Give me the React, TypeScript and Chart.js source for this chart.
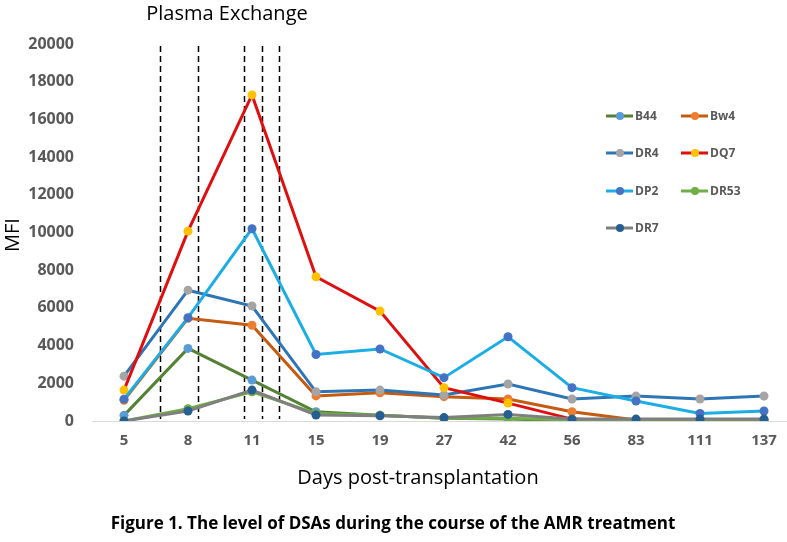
import React, { useEffect, useRef } from "react";
import { Chart, registerables } from "chart.js";

Chart.register(...registerables);

const days = ["5", "8", "11", "15", "19", "27", "42", "56", "83", "111", "137"];
const b44 = [300, 3850, 2170, 490, 300, 150, 100, 30, 50, 50, 50];
const bw4 = [1100, 5450, 5080, 1330, 1500, 1290, 1170, 490, 50, 50, 50];
const dr4 = [2380, 6940, 6100, 1550, 1640, 1380, 1960, 1170, 1320, 1170, 1320];
const dq7 = [1640, 10070, 17300, 7650, 5830, 1770, 950, 100, 0, 0, 0];
const dp2 = [1160, 5480, 10200, 3530, 3820, 2300, 4470, 1770, 1060, 400, 530];
const dr53 = [0, 650, 1550, 400, 300, 150, 150, 50, 50, 50, 50];
const dr7 = [0, 530, 1640, 320, 280, 180, 350, 100, 100, 100, 100];
// plasma exchange sessions, as fractional category positions
const plasmaExchangeMarks = [0.56, 1.16, 1.875, 2.16, 2.42];

const seriesNames = ["B44", "Bw4", "DR4", "DQ7", "DP2", "DR53", "DR7"];
const seriesData = [b44, bw4, dr4, dq7, dp2, dr53, dr7];
const lineColors = ["#548235", "#C55A11", "#2E75B6", "#E00F0F", "#1CADE4", "#70AD47", "#7F7F7F"];
const markerColors = ["#5B9BD5", "#ED7D31", "#A5A5A5", "#FFC000", "#4472C4", "#70AD47", "#255E91"];

const FONT = "'Open Sans', sans-serif";

const overlay = {
  id: "overlay",
  beforeDatasetsDraw(chart: any) {
    const ctx = chart.ctx;
    const x = chart.scales.x;
    const area = chart.chartArea;
    ctx.save();
    ctx.strokeStyle = "#000";
    ctx.lineWidth = 1.5;
    ctx.setLineDash([6, 4]);
    plasmaExchangeMarks.forEach((m) => {
      const px = Math.round(x.getPixelForValue(m)) + 0.5;
      ctx.beginPath();
      ctx.moveTo(px, area.top + 2);
      ctx.lineTo(px, area.bottom - 2);
      ctx.stroke();
    });
    ctx.restore();
  },
  afterDraw(chart: any) {
    const ctx = chart.ctx;
    ctx.save();
    ctx.fillStyle = "#000";
    ctx.textAlign = "center";
    ctx.textBaseline = "middle";
    ctx.font = `20px ${FONT}`;
    ctx.fillText("Plasma Exchange", 227, 14);
    ctx.font = `20px ${FONT}`;
    ctx.fillText("Days post-transplantation", 418, 478);
    ctx.font = `bold 17px ${FONT}`;
    ctx.fillText("Figure 1. The level of DSAs during the course of the AMR treatment", 393, 524);
    ctx.save();
    ctx.translate(13, 235);
    ctx.rotate(-Math.PI / 2);
    ctx.font = `20px ${FONT}`;
    ctx.fillText("MFI", 0, 0);
    ctx.restore();

    // legend
    const colX = [606, 681];
    const rowY = [116, 153, 191, 228];
    ctx.setLineDash([]);
    seriesNames.forEach((name, i) => {
      const cx = colX[i % 2];
      const cy = rowY[Math.floor(i / 2)];
      ctx.strokeStyle = lineColors[i];
      ctx.lineWidth = 3;
      ctx.beginPath();
      ctx.moveTo(cx, cy);
      ctx.lineTo(cx + 27, cy);
      ctx.stroke();
      ctx.fillStyle = markerColors[i];
      ctx.beginPath();
      ctx.arc(cx + 14, cy, 4, 0, Math.PI * 2);
      ctx.fill();
      ctx.fillStyle = "#595959";
      ctx.textAlign = "left";
      ctx.font = `bold 12px ${FONT}`;
      ctx.fillText(name, cx + 29, cy + 1);
    });
    ctx.restore();
  },
};

export default function App() {
  const ref = useRef<HTMLCanvasElement | null>(null);
  useEffect(() => {
    if (!ref.current) return;
    const n = seriesNames.length;
    const chart = new Chart(ref.current, {
      type: "line",
      data: {
        labels: days,
        datasets: seriesNames.map((name, i) => ({
          label: name,
          data: seriesData[i],
          borderColor: lineColors[i],
          backgroundColor: markerColors[i],
          pointBackgroundColor: markerColors[i],
          pointBorderColor: markerColors[i],
          pointRadius: 4.5,
          pointBorderWidth: 0,
          borderWidth: 3,
          tension: 0,
          fill: false,
          order: n - i,
        })),
      },
      options: {
        responsive: false,
        animation: false,
        devicePixelRatio: 1,
        layout: { padding: { left: 0, right: 24, top: 44, bottom: 87 } },
        plugins: { legend: { display: false }, tooltip: { enabled: false }, title: { display: false } },
        scales: {
          x: {
            offset: true,
            grid: { display: false, drawTicks: false },
            border: { display: true, color: "#D9D9D9", width: 1 },
            ticks: { color: "#595959", font: { family: FONT, size: 15, weight: "bold" }, padding: 11, maxRotation: 0, autoSkip: false },
            afterFit: (s: any) => { s.height = 34; },
          },
          y: {
            min: 0,
            max: 20000,
            grid: { display: false, drawTicks: false },
            border: { display: false },
            ticks: {
              stepSize: 2000,
              color: "#595959",
              font: { family: FONT, size: 16, weight: "bold" },
              padding: 18,
              callback: (v: any) => String(v),
            },
            afterFit: (s: any) => { s.width = 92; },
          },
        },
      },
      plugins: [overlay],
    });
    return () => chart.destroy();
  }, []);
  return (
    <div style={{ position: "absolute", left: 0, top: 0, width: 787, height: 542, overflow: "hidden", background: "#fff" }}>
      <canvas ref={ref} width={820} height={542} style={{ display: "block", width: 820, height: 542 }} />
    </div>
  );
}
